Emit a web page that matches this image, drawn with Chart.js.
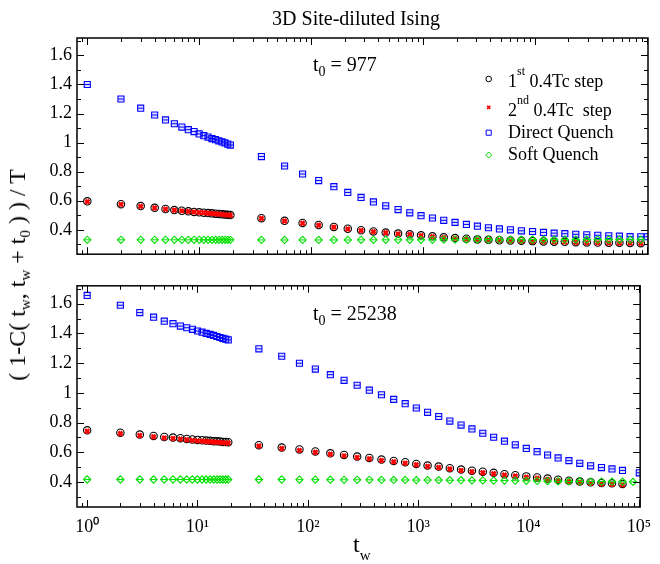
<!DOCTYPE html>
<html>
<head>
<meta charset="utf-8">
<script src="https://cdn.jsdelivr.net/npm/chart.js@4.4.0/dist/chart.umd.min.js"></script>
<style>
    body { margin: 0; background: #fff; }
    #fig { position: relative; width: 660px; height: 564px; font-family: 'Liberation Serif', 'Times New Roman', serif; color: #000; }
    #fig canvas { position: absolute; left: 0; }
    .txt { position: absolute; white-space: nowrap; line-height: 1; }
    .sub { position: relative; top: 5px; font-size: 14px; line-height: 0; }
    .sup { position: relative; top: -12px; font-size: 12px; line-height: 0; }
</style>
</head>
<body>
<div id="fig">
    <canvas id="panelTop" width="660" height="270" style="top:0"></canvas>
    <canvas id="panelBottom" width="660" height="294" style="top:270px"></canvas>

    <div class="txt" style="font-size:20px; left:356px; top:8px; transform:translateX(-50%)">3D Site-diluted Ising</div>

    <div class="txt" style="font-size:20px; left:313px; top:54px">t<span class="sub">0</span> = 977</div>
    <div class="txt" style="font-size:20px; left:313px; top:303px">t<span class="sub">0</span> = 25238</div>

    <div class="txt" style="font-size:18px; left:508px; top:72px">1<span class="sup">st</span> 0.4Tc step</div>
    <div class="txt" style="font-size:18px; left:508px; top:101px">2<span class="sup">nd</span> 0.4Tc&nbsp; step</div>
    <div class="txt" style="font-size:18px; left:508px; top:123px">Direct Quench</div>
    <div class="txt" style="font-size:18px; left:508px; top:145px">Soft Quench</div>

    <div class="txt" style="font-size:24px; left:353px; top:532px">t<span class="sub" style="font-size:15px; top:8px">w</span></div>

    <div class="txt" style="font-size:24px; left:17px; top:275px; transform:translate(-50%, -50%) rotate(-90deg)">( 1-C( t<span class="sub" style="font-size:15px">w</span>, t<span class="sub" style="font-size:15px">w</span> + t<span class="sub" style="font-size:15px">0</span> ) ) / T</div>
</div>

<script>
// waiting times t_w (shared by all series, null = no point)
const tw = [1, 2, 3, 4, 5, 6, 7, 8, 9, 10, 11, 12, 13, 14, 15, 16, 17, 18, 19,
    36, 58, 84, 117, 160, 213, 280, 361, 465, 600, 763, 962, 1217, 1535, 1937, 2448, 3071, 3852, 4830, 6057,
    7590, 9550, 11970, 14890, 18550, 23250, 29150, 36560, 45850, 57100, 71100, 88600, 101000];

// t0 = 977
const first977 = [0.596, 0.576, 0.563, 0.551, 0.543, 0.536, 0.531, 0.527, 0.523, 0.520, 0.518, 0.515, 0.513, 0.511, 0.509, 0.507, 0.505, 0.503, 0.501,
    0.480, 0.462, 0.447, 0.433, 0.420, 0.407, 0.397, 0.389, 0.381, 0.374, 0.369, 0.362, 0.355, 0.348, 0.343, 0.339, 0.334, 0.331, 0.328, 0.326,
    0.324, 0.322, 0.320, 0.318, 0.317, 0.315, 0.313, 0.312, 0.311, 0.310, 0.309, 0.308, null];
const second977 = [0.594, 0.575, 0.561, 0.550, 0.542, 0.535, 0.530, 0.526, 0.522, 0.519, 0.517, 0.514, 0.512, 0.510, 0.508, 0.506, 0.504, 0.502, 0.500,
    0.478, 0.460, 0.445, 0.431, 0.418, 0.405, 0.395, 0.387, 0.379, 0.372, 0.367, 0.360, 0.353, 0.346, 0.341, 0.337, 0.332, 0.329, 0.326, 0.324,
    0.322, 0.320, 0.318, 0.316, 0.315, 0.313, 0.311, 0.310, 0.309, 0.308, 0.307, 0.306, null];
const direct977 = [1.400, 1.300, 1.237, 1.190, 1.156, 1.130, 1.107, 1.089, 1.076, 1.060, 1.048, 1.038, 1.028, 1.020, 1.012, 1.005, 0.998, 0.990, 0.983,
    0.904, 0.839, 0.784, 0.739, 0.697, 0.657, 0.623, 0.592, 0.565, 0.539, 0.517, 0.497, 0.481, 0.465, 0.451, 0.437, 0.425, 0.414, 0.406, 0.400,
    0.393, 0.388, 0.382, 0.377, 0.373, 0.369, 0.366, 0.362, 0.359, 0.356, 0.353, 0.352, 0.352];
const soft977 = [0.331, 0.331, 0.331, 0.331, 0.331, 0.331, 0.331, 0.331, 0.331, 0.331, 0.331, 0.331, 0.331, 0.331, 0.331, 0.331, 0.331, 0.331, 0.331,
    0.330, 0.330, 0.330, 0.330, 0.330, 0.330, 0.331, 0.331, 0.331, 0.331, 0.331, 0.331, 0.331, 0.332, 0.332, 0.332, 0.332, 0.332, 0.332, 0.332,
    0.332, 0.333, 0.333, 0.333, 0.333, 0.333, 0.333, 0.333, 0.333, 0.333, 0.333, 0.333, null];

// t0 = 25238
const first25238 = [0.748, 0.732, 0.719, 0.710, 0.703, 0.699, 0.695, 0.690, 0.686, 0.683, 0.681, 0.679, 0.677, 0.675, 0.674, 0.672, 0.670, 0.669, 0.668,
    0.648, 0.632, 0.619, 0.606, 0.593, 0.582, 0.571, 0.562, 0.551, 0.542, 0.533, 0.522, 0.511, 0.504, 0.493, 0.484, 0.476, 0.469, 0.462, 0.453,
    0.446, 0.438, 0.431, 0.423, 0.416, 0.409, 0.403, 0.398, 0.393, 0.391, 0.387, null, null];
const second25238 = [0.742, 0.726, 0.713, 0.704, 0.697, 0.693, 0.689, 0.684, 0.680, 0.677, 0.675, 0.673, 0.671, 0.669, 0.668, 0.666, 0.664, 0.663, 0.662,
    0.642, 0.626, 0.613, 0.600, 0.587, 0.576, 0.565, 0.556, 0.545, 0.536, 0.527, 0.516, 0.505, 0.498, 0.487, 0.478, 0.470, 0.463, 0.456, 0.447,
    0.440, 0.432, 0.425, 0.417, 0.410, 0.403, 0.397, 0.392, 0.387, 0.385, 0.381, null, null];
const direct25238 = [1.655, 1.589, 1.540, 1.509, 1.482, 1.465, 1.449, 1.438, 1.427, 1.416, 1.408, 1.400, 1.393, 1.386, 1.379, 1.372, 1.366, 1.361, 1.356,
    1.296, 1.246, 1.199, 1.160, 1.122, 1.084, 1.051, 1.018, 0.987, 0.956, 0.927, 0.898, 0.869, 0.841, 0.810, 0.783, 0.757, 0.728, 0.701, 0.675,
    0.650, 0.626, 0.604, 0.582, 0.562, 0.544, 0.526, 0.509, 0.497, 0.488, 0.478, null, 0.462];
const soft25238 = [0.417, 0.417, 0.417, 0.417, 0.417, 0.417, 0.417, 0.417, 0.417, 0.417, 0.417, 0.417, 0.417, 0.417, 0.417, 0.417, 0.417, 0.417, 0.417,
    0.417, 0.417, 0.416, 0.416, 0.416, 0.415, 0.415, 0.415, 0.414, 0.414, 0.414, 0.413, 0.413, 0.413, 0.412, 0.412, 0.411, 0.411, 0.410, 0.410,
    0.409, 0.408, 0.407, 0.406, 0.405, 0.404, 0.404, 0.403, 0.403, 0.402, 0.402, 0.401, null];

const seriesNames = ['1st 0.4Tc step', '2nd 0.4Tc  step', 'Direct Quench', 'Soft Quench'];

// axes
const xMajorTicks = [1, 10, 100, 1000, 10000, 100000];
const xTickLabels = ['10⁰', '10¹', '10²', '10³', '10⁴', '10⁵'];
const yMajorTicks = [0.4, 0.6, 0.8, 1.0, 1.2, 1.4, 1.6];
const yTickLabels = ['0.4', '0.6', '0.8', '1', '1.2', '1.4', '1.6'];
const yMinorTicks = [0.3, 0.5, 0.7, 0.9, 1.1, 1.3, 1.5, 1.7];
const xMin = 0.809, xMax = 102800;
const yMin = 0.232, yMax = 1.72;

const xMinorTicks = [];
[0.1, 1, 10, 100, 1000, 10000].forEach(d => {
    for (let k = 2; k <= 9; k++) {
        const v = d * k;
        if (v > xMin && v < xMax) xMinorTicks.push(v);
    }
});

const BLUE = '#0000ff', RED = '#ff0000', GREEN = '#00e000';
const serif = 'Liberation Serif';

const points = vals => tw.map((x, i) => ({x: x, y: vals[i]})).filter(p => p.y !== null);

const makeDatasets = (first, second, direct, soft) => [
    {label: seriesNames[3], data: points(soft), pointStyle: 'rectRot', pointRadius: 3.6, borderColor: GREEN, backgroundColor: 'transparent', borderWidth: 1.1, order: 0},
    {label: 'soft-bar', data: points(soft), pointStyle: 'line', pointRadius: 3.4, borderColor: GREEN, borderWidth: 1, order: 0},
    {label: seriesNames[2], data: points(direct), pointStyle: 'rect', pointRadius: 4.3, borderColor: BLUE, backgroundColor: 'rgba(0,0,255,0.12)', borderWidth: 1.1, order: 1},
    {label: 'direct-bar', data: points(direct), pointStyle: 'line', pointRadius: 2.8, borderColor: BLUE, borderWidth: 1, order: 1},
    {label: seriesNames[1], data: points(second), pointStyle: 'crossRot', pointRadius: 2.9, borderColor: RED, borderWidth: 2.6, order: 2},
    {label: seriesNames[0], data: points(first), pointStyle: 'circle', pointRadius: 3.7, borderColor: '#000', backgroundColor: 'transparent', borderWidth: 1.1, order: 3},
];

// frame with inward ticks on all four sides
const frameTicks = {
    id: 'frameTicks',
    afterDatasetsDraw(chart) {
        const {ctx, chartArea: a, scales: {x, y}} = chart;
        ctx.save();
        ctx.strokeStyle = '#000';
        ctx.lineWidth = 1;
        ctx.beginPath();
        const xt = (v, len) => {
            const p = Math.round(x.getPixelForValue(v)) + 0.5;
            ctx.moveTo(p, a.bottom); ctx.lineTo(p, a.bottom - len);
            ctx.moveTo(p, a.top); ctx.lineTo(p, a.top + len);
        };
        const yt = (v, len) => {
            const p = Math.round(y.getPixelForValue(v)) + 0.5;
            ctx.moveTo(a.left, p); ctx.lineTo(a.left + len, p);
            ctx.moveTo(a.right, p); ctx.lineTo(a.right - len, p);
        };
        xMajorTicks.forEach(v => xt(v, 7));
        xMinorTicks.forEach(v => xt(v, 4));
        yMajorTicks.forEach(v => yt(v, 7));
        yMinorTicks.forEach(v => yt(v, 4));
        ctx.stroke();
        ctx.lineWidth = 1.5;
        ctx.strokeRect(a.left, a.top, a.right - a.left, a.bottom - a.top);
        ctx.restore();
    }
};

// legend symbols (text is in the page)
const legendMarks = {
    id: 'legendMarks',
    afterDraw(chart, args, opts) {
        if (!opts.show || !Chart.helpers) return;
        const ctx = chart.ctx;
        opts.rows.forEach(r => {
            const ds = chart.data.datasets.find(d => d.label === r.label);
            ctx.save();
            ctx.strokeStyle = ds.borderColor;
            ctx.fillStyle = 'transparent';
            ctx.lineWidth = r.width;
            Chart.helpers.drawPoint(ctx, {pointStyle: ds.pointStyle, radius: r.radius, borderWidth: r.width, rotation: 0}, opts.x, r.y);
            ctx.restore();
        });
    }
};

const makeOptions = (showX, padding, legendShow) => ({
    responsive: false,
    animation: false,
    events: [],
    layout: {padding: padding},
    plugins: {
        legend: {display: false},
        tooltip: {enabled: false},
        legendMarks: {
            show: legendShow,
            x: 488.7,
            rows: [
                {label: seriesNames[0], y: 79, radius: 2.8, width: 1},
                {label: seriesNames[1], y: 107.3, radius: 2.2, width: 1.6},
                {label: seriesNames[2], y: 132.7, radius: 3.6, width: 1},
                {label: seriesNames[3], y: 155, radius: 3, width: 1},
            ]
        }
    },
    scales: {
        x: {
            type: 'logarithmic',
            min: xMin,
            max: xMax,
            display: showX,
            afterBuildTicks: s => { s.ticks = xMajorTicks.map(v => ({value: v})); },
            afterFit: s => { s.height = showX ? 40 : 0; },
            grid: {display: false, drawTicks: false},
            border: {display: false},
            ticks: {
                autoSkip: false,
                maxRotation: 0,
                padding: 9,
                color: '#000',
                font: {family: serif, size: 18},
                callback: (v, i) => xTickLabels[i]
            }
        },
        y: {
            type: 'linear',
            min: yMin,
            max: yMax,
            afterBuildTicks: s => { s.ticks = yMajorTicks.map(v => ({value: v})); },
            afterFit: s => { s.width = 77; },
            grid: {display: false, drawTicks: false},
            border: {display: false},
            ticks: {
                padding: 5,
                color: '#000',
                font: {family: serif, size: 18},
                callback: (v, i) => yTickLabels[i]
            }
        }
    }
});

new Chart(document.getElementById('panelTop'), {
    type: 'scatter',
    data: {datasets: makeDatasets(first977, second977, direct977, soft977)},
    options: makeOptions(false, {left: 0, right: 12, top: 38, bottom: 10}, true),
    plugins: [frameTicks, legendMarks]
});

new Chart(document.getElementById('panelBottom'), {
    type: 'scatter',
    data: {datasets: makeDatasets(first25238, second25238, direct25238, soft25238)},
    options: makeOptions(true, {left: 0, right: 12, top: 14, bottom: 17}, false),
    plugins: [frameTicks, legendMarks]
});
</script>
</body>
</html>
